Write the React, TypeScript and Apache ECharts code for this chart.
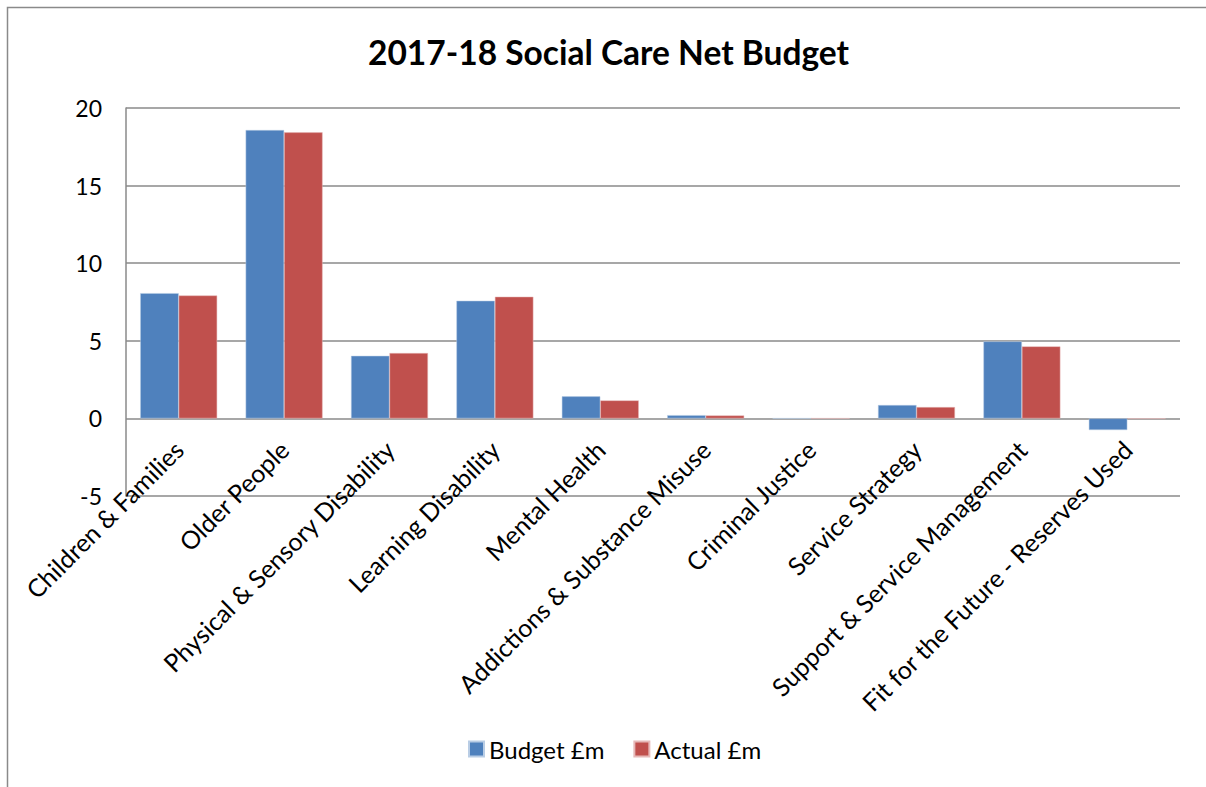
import React, { useEffect, useRef } from "react";
import * as echarts from "echarts";

const categories = [
  "Children & Families",
  "Older People",
  "Physical & Sensory Disability",
  "Learning Disability",
  "Mental Health",
  "Addictions & Substance Misuse",
  "Criminal Justice",
  "Service Strategy",
  "Support & Service Management",
  "Fit for the Future - Reserves Used",
];
const budget = [8.07, 18.58, 4.03, 7.58, 1.42, 0.21, 0, 0.86, 4.96, -0.75];
const actual = [7.92, 18.43, 4.21, 7.84, 1.16, 0.19, 0, 0.73, 4.64, -0.03];
const seriesNames = ["Budget £m", "Actual £m"];
const yMin = -5;
const yMax = 20;
const yInterval = 5;

const FONT = "Lato, 'Open Sans', sans-serif";

export default function App() {
  const ref = useRef<HTMLDivElement>(null);
  useEffect(() => {
    if (!ref.current) return;
    const chart = echarts.init(ref.current, undefined, { renderer: "svg" });
    chart.setOption({
      animation: false,
      backgroundColor: "#ffffff",
      textStyle: { fontFamily: FONT },
      title: {
        text: "2017-18 Social Care Net Budget",
        left: 363,
        top: 30,
        textStyle: { fontFamily: FONT, fontSize: 33.5, fontWeight: "bold", color: "#000" },
      },
      graphic: [
        {
          type: "polyline",
          shape: { points: [[7.5, 900], [7.5, 7.5], [1300, 7.5]] },
          style: { stroke: "#8a8a8a", lineWidth: 1.5, fill: "none" },
          silent: true,
        },
      ],
      legend: {
        data: seriesNames,
        bottom: 21,
        left: 463,
        itemWidth: 15,
        itemHeight: 15,
        itemGap: 29,
        icon: "rect",
        textStyle: { fontFamily: FONT, fontSize: 24, color: "#000" },
      },
      grid: { left: 126, right: 26, top: 108, bottom: 291, containLabel: false },
      xAxis: {
        type: "category",
        data: categories,
        axisLine: { show: false },
        axisTick: { show: false },
        axisLabel: {
          interval: 0,
          rotate: 45,
          margin: -51,
          fontFamily: FONT,
          fontSize: 25,
          color: "#000",
        },
      },
      yAxis: {
        type: "value",
        min: yMin,
        max: yMax,
        interval: yInterval,
        axisLine: { show: true, lineStyle: { color: "#8a8a8a", width: 1.5 } },
        axisTick: { show: false },
        splitLine: { show: true, lineStyle: { color: "#8a8a8a", width: 1.5 } },
        axisLabel: { margin: 24, fontFamily: FONT, fontSize: 23, color: "#000" },
      },
      series: [
        {
          name: seriesNames[0],
          type: "bar",
          data: budget,
          barGap: "0%",
          barCategoryGap: "27%",
          itemStyle: { color: "#4F81BD", borderColor: "#b9cde5", borderWidth: 0.5 },
        },
        {
          name: seriesNames[1],
          type: "bar",
          data: actual,
          barGap: "0%",
          barCategoryGap: "27%",
          itemStyle: { color: "#C0504D", borderColor: "#e6b9b8", borderWidth: 0.5 },
        },
      ],
    });
    return () => chart.dispose();
  }, []);
  return (
    <div
      ref={ref}
      style={{ position: "fixed", left: 0, top: 0, width: 1206, height: 787 }}
    />
  );
}
